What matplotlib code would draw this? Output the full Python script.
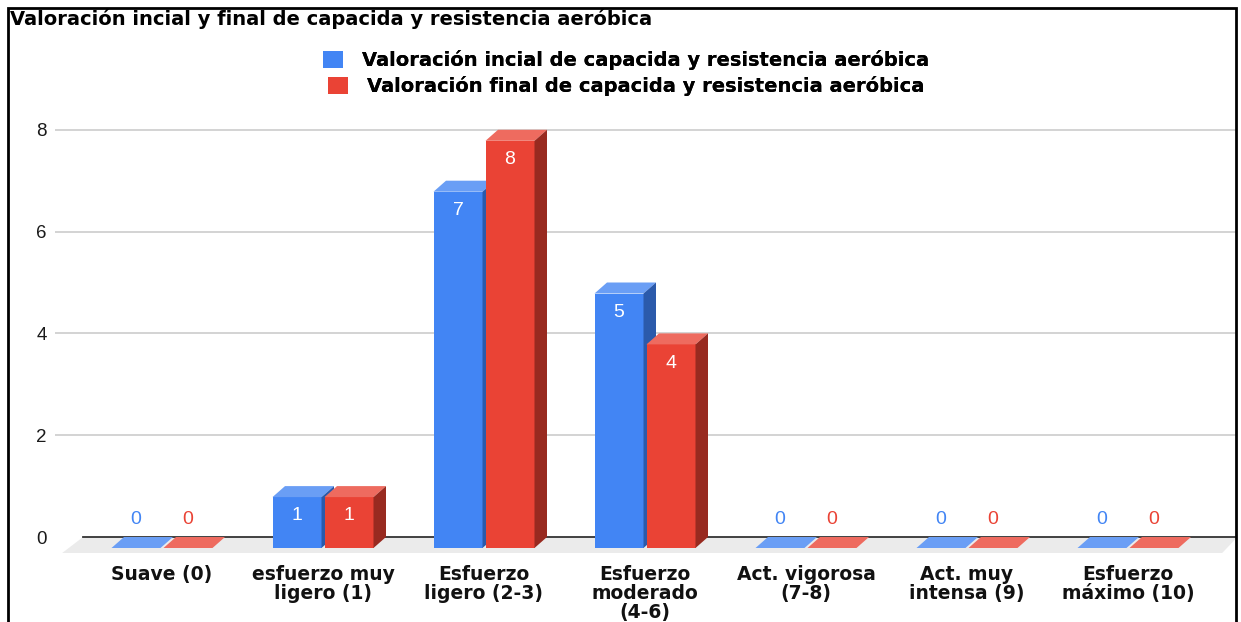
import matplotlib.pyplot as plt
from matplotlib.patches import Polygon, Rectangle, Patch

categories = ['Suave (0)', 'esfuerzo muy\nligero (1)', 'Esfuerzo\nligero (2-3)',
              'Esfuerzo\nmoderado\n(4-6)', 'Act. vigorosa\n(7-8)', 'Act. muy\nintensa (9)',
              'Esfuerzo\nmáximo (10)']
inicial = [0, 1, 7, 5, 0, 0, 0]
final = [0, 1, 8, 4, 0, 0, 0]
series_names = ['Valoración incial de capacida y resistencia aeróbica',
                'Valoración final de capacida y resistencia aeróbica']
yticks = [0, 2, 4, 6, 8]
title = 'Valoración incial y final de capacida y resistencia aeróbica'

# front, top, side colours for each series
colors = [('#4285F4', '#6A9EF5', '#2B5AAB'),
          ('#EA4335', '#EE6B5F', '#982A20')]

W, H = 1241, 622
plt.rcParams['font.family'] = ['DejaVu Sans']
num_font = 'Liberation Sans'
fig = plt.figure(figsize=(W / 100, H / 100), dpi=100)

# pixel layout of the plot area
px_unit_x, px_unit_y = 161.0, 50.9
x0_px, y0_px = 162.0, 548.0
left_px, right_px, top_px, bot_px = 55, 1236, 120, 565
ax = fig.add_axes([left_px / W, 1 - bot_px / H, (right_px - left_px) / W, (bot_px - top_px) / H])
ax.set_xlim((left_px - x0_px) / px_unit_x, (right_px - x0_px) / px_unit_x)
ax.set_ylim((y0_px - bot_px) / px_unit_y, (y0_px - top_px) / px_unit_y)
for s in ax.spines.values():
    s.set_visible(False)

dx = 12.5 / px_unit_x   # depth offset
dy = 11.0 / px_unit_y
bw = 49.0 / px_unit_x
gap = 1.5 / px_unit_x

# gridlines on the back plane
for v in yticks[1:]:
    ax.plot([ax.get_xlim()[0], ax.get_xlim()[1]], [v + dy, v + dy], color='#cccccc', lw=1.2, zorder=1)

# floor
fl = -5.0 / px_unit_y
floor = Polygon([(-0.62, fl), (6.585, fl), (6.68, dy), (-0.49, dy)], closed=True,
                facecolor='#ebebeb', edgecolor='none', zorder=1)
ax.add_patch(floor)
ax.plot([-0.49, ax.get_xlim()[1]], [dy, dy], color='#333333', lw=1.3, zorder=2)


def bar3d(x, v, cols, z):
    f, t, s = cols
    if v > 0:
        ax.add_patch(Rectangle((x, 0), bw, v, facecolor=f, edgecolor='none', zorder=z))
        ax.add_patch(Polygon([(x, v), (x + bw, v), (x + bw + dx, v + dy), (x + dx, v + dy)],
                             facecolor=t, edgecolor='none', zorder=z))
        ax.add_patch(Polygon([(x + bw, 0), (x + bw + dx, dy), (x + bw + dx, v + dy), (x + bw, v)],
                             facecolor=s, edgecolor='none', zorder=z))
        ax.text(x + bw / 2, v - 0.37, str(v), color='white', fontsize=14, family=num_font,
                ha='center', va='center', zorder=z + 1)
    else:
        ax.add_patch(Polygon([(x, 0), (x + bw, 0), (x + bw + dx, dy), (x + dx, dy)],
                             facecolor=t, edgecolor='none', zorder=z))
        ax.text(x + bw / 2, 0.56, str(v), color=f, fontsize=14, family=num_font,
                ha='center', va='center', zorder=z + 1)


for i in range(len(categories)):
    bar3d(i - gap - bw, inicial[i], colors[0], 3 + 2 * i)
    bar3d(i + gap, final[i], colors[1], 4 + 2 * i)

ax.set_yticks([v + dy for v in yticks])
ax.set_yticklabels([str(v) for v in yticks], fontsize=13.5, color='#1a1a1a', family=num_font)
ax.set_xticks(range(len(categories)))
ax.set_xticklabels(categories, fontsize=13.5, fontweight='bold', color='#111111', linespacing=1.0)
ax.tick_params(axis='both', length=0)
ax.tick_params(axis='y', pad=6)
ax.tick_params(axis='x', pad=0)

for k in range(2):
    lg = fig.legend([Patch(facecolor=colors[k][0])], [series_names[k]], loc='center',
                    bbox_to_anchor=(626 / W, 1 - (60 + 26 * k) / H), frameon=False,
                    prop={'weight': 'bold', 'size': 14},
                    handlelength=1.05, handleheight=0.95, handletextpad=0.95,
                    borderpad=0, borderaxespad=0)
    fig.add_artist(lg)

fig.text(10 / W, 1 - 19 / H, title, fontsize=14, fontweight='bold', ha='left', va='center')

# outer frame
fig.add_artist(Rectangle((8 / W, -0.05), (1236 - 8) / W, 1.05 - 8 / H, transform=fig.transFigure,
                         fill=False, edgecolor='black', lw=2))

fig.savefig('out.png', dpi=100)
